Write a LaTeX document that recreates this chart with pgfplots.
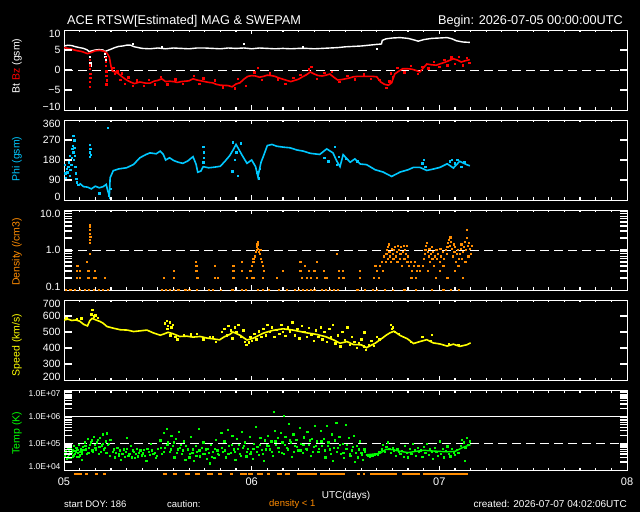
\documentclass[border=0pt]{standalone}
\usepackage{pgfplots}
\pgfplotsset{compat=1.18}
\usepackage{fontspec}
\setmainfont{Liberation Sans}
\definecolor{acered}{RGB}{255,0,0}
\definecolor{acecyan}{RGB}{0,200,255}
\definecolor{aceorange}{RGB}{255,140,0}
\definecolor{aceyellow}{RGB}{255,255,0}
\definecolor{acegreen}{RGB}{0,255,0}
\newcommand\dn[1]{\smash{\raisebox{-3.5pt}{#1}}\vphantom{0}}
\newcommand\up[1]{\smash{\raisebox{3.5pt}{#1}}\vphantom{0}}
\pgfplotsset{
  acepanel/.style={
    scale only axis, width=563pt, height=80pt, anchor=south west,
    xmin=0, xmax=72,
    axis background/.style={fill=black},
    axis line style={white, line width=0.9pt},
    tick align=inside,
    major tick length=0pt, minor tick length=0pt,
    xtick=\empty,
    tick label style={white, font=\fontsize{10.5}{12}\selectfont},
  },
  dot/.style={only marks, mark=square*, mark size=0.7pt},
  sdot/.style={only marks, mark=square*, mark size=0.6pt},
}
\begin{document}
\begin{tikzpicture}[x=1pt,y=1pt]
\fill[black] (0,0) rectangle (640,512);

% ---------------- Panel 1: Bt / Bz ----------------
\begin{axis}[acepanel, at={(64pt,402pt)}, ymin=-10, ymax=10,
  ytick={-10,-5,0,5,10}, yticklabels={\up{−10},−5,0,5,\dn{10}}]
\draw[white, line width=0.9pt, dash pattern=on 9pt off 5pt] (axis cs:0,0) -- (axis cs:72,0);
\addplot[white, line width=1.4pt] coordinates {
(0,6.0)(0.5,6.2)(1,6.1)(1.5,5.8)(2,5.6)(2.5,5.4)(3,5.0)(3.2,4.6)(3.6,4.8)(4,5.0)(4.5,5.1)(5,5.0)(5.2,4.6)(5.6,4.9)(6,5.2)(6.5,5.6)(7,5.9)(7.5,6.0)(8,6.2)(8.5,6.2)(9,5.8)(9.5,5.6)(10,5.4)(11,5.3)(12,5.5)(13,5.3)(14,5.5)(15,5.4)(16,5.3)(17,5.5)(18,5.5)(19,5.4)(20,5.3)(21,5.5)(22,5.4)(23,5.5)(24,5.3)(25,5.5)(26,5.4)(27,5.3)(28,5.4)(29,5.3)(30,5.4)(31,5.4)(32,5.3)(33,5.4)(34,5.5)(35,5.6)(36,5.8)(37,5.9)(38,6.0)(39,6.2)(40,6.4)(40.6,6.5)(40.7,7.4)(41.2,7.8)(42,8.0)(43,8.1)(44,7.9)(44.8,7.5)(45.3,7.2)(46,7.6)(47,7.9)(48,8.0)(49,8.1)(49.6,7.8)(50.2,7.3)(51,7.0)(51.9,6.9)};
\addplot[white, dot] coordinates {(3.3,3.3)(3.3,2.5)(3.35,1.8)(3.35,1.2)(5.2,4.0)(5.25,3.3)(5.3,2.6)(23,6.5)(40,5.3)(8.8,6.5)(12.5,5.8)(30.5,5.7)};
\addplot[acered, line width=1.6pt] coordinates {
(0,5.6)(0.8,5.3)(1.5,4.9)(2.3,4.6)(3.0,4.1)(3.5,4.4)(4.0,4.8)(4.6,4.9)(5.1,4.7)(5.5,4.2)(5.8,3.2)(6.0,1.0)(6.2,-0.3)(6.6,-0.5)(7,-1.0)(7.5,-1.8)(8,-2.5)(8.5,-3.0)(9,-3.4)(9.7,-3.0)(10.5,-3.3)(11,-3.3)(11.5,-2.8)(12,-2.6)(12.5,-2.2)(13,-2.9)(13.5,-2.8)(14,-2.9)(14.5,-3.1)(15,-2.9)(15.5,-2.8)(16,-2.7)(16.5,-2.2)(17,-2.5)(18,-2.9)(18.5,-3.1)(19,-3.2)(19.5,-3.6)(20,-3.8)(21,-3.9)(21.5,-4.2)(22,-3.5)(22.5,-3.2)(23,-2.3)(23.5,-1.6)(24,-1.4)(24.5,-1.5)(25,-1.8)(25.5,-1.6)(26,-1.3)(26.5,-1.4)(27,-1.6)(27.5,-2.0)(28,-2.3)(28.5,-2.6)(29,-2.9)(29.5,-2.6)(30,-2.3)(30.5,-1.7)(31,-1.2)(31.5,-0.5)(32,-1.0)(32.5,-1.4)(33,-1.5)(33.5,-1.3)(34,-1.0)(34.5,-1.8)(35,-2.5)(35.5,-2.4)(36,-2.2)(36.5,-2.0)(37,-1.7)(37.5,-1.6)(38,-1.6)(38.5,-1.6)(39,-1.6)(39.5,-1.6)(40,-1.7)(40.5,-3.0)(41,-3.6)(41.5,-3.8)(41.9,-3.2)(42.3,-1.0)(42.8,-0.3)(43.3,0.3)(44,0.3)(44.5,0.2)(45,-0.1)(45.5,-0.5)(46,0.6)(46.4,1.5)(47,1.3)(47.6,1.2)(48.2,1.6)(48.8,2.0)(49.3,2.4)(49.8,2.8)(50.3,2.5)(50.8,2.0)(51.3,2.3)(51.9,2.6)};
\addplot[acered, dot] coordinates {
(3.3,2.5)(3.3,1.2)(3.3,0.3)(3.35,-0.9)(3.35,-2.0)(3.3,-3.0)(3.3,-4.2)(5.3,3.0)(5.35,2.0)(5.35,1.0)(5.4,-0.3)(5.4,-1.5)(5.45,-2.6)(5.4,-3.6)
(6.3,0.5)(6.5,-1.0)(6.8,-0.3)(7.2,-2.5)(7.4,-0.8)(7.8,-3.5)(8.2,-1.8)(8.8,-4.0)(9.3,-2.6)(10.2,-3.9)(10.8,-2.4)(11.6,-3.6)(12.4,-1.7)(13.2,-3.6)(14.2,-2.3)(15.2,-3.5)(16.6,-1.5)(17.3,-3.4)(17.8,-2.1)(19.3,-2.6)(20.3,-4.3)(21.8,-4.6)(22.2,-2.2)(23.2,-3.9)(24.3,-0.6)(24.8,0.5)(25.3,-2.5)(26.3,-0.8)(27.3,-2.3)(28.3,-3.4)(29.3,-2.0)(30.2,-1.2)(31.3,0.2)(31.6,0.8)(32.3,-2.2)(33.3,-0.7)(34.2,-0.4)(35.2,-3.0)(36.2,-1.5)(37.2,-2.3)(38.3,-1.1)(39.2,-2.2)(40.3,-2.4)(41.2,-4.5)(41.6,-2.8)(41.8,-0.8)(42.0,-1.8)(42.6,0.5)(43.5,-0.6)(44.3,1.0)(45.2,-0.9)(45.8,0.8)(46.6,0.4)(47.3,2.0)(48.0,0.8)(48.6,2.6)(49.0,1.2)(49.5,3.2)(50.0,1.5)(50.5,3.3)(51.0,1.2)(51.5,3.0)(51.8,1.8)};
\end{axis}

% ---------------- Panel 2: Phi ----------------
\begin{axis}[acepanel, at={(64pt,312pt)}, ymin=0, ymax=360,
  ytick={0,90,180,270,360}, yticklabels={\up{0},90,180,270,\dn{360}}]
\addplot[acecyan, line width=1.6pt] coordinates {
(2.0,75)(2.5,60)(3.0,58)(3.5,50)(4.0,62)(4.5,55)(5.0,60)(5.4,70)(5.6,40)(5.8,20)(5.9,100)(6.3,132)(7.0,140)(8.0,145)(8.9,160)(9.7,190)(10.5,205)(11.0,212)(11.8,208)(12.3,220)(12.7,205)(13.0,180)(13.5,190)(14.0,178)(14.6,170)(15.2,165)(15.8,175)(16.5,195)(16.9,160)(17.1,125)(17.5,130)(17.8,150)(18.5,145)(19.3,148)(20.0,152)(20.6,175)(21.2,200)(21.7,230)(22.0,250)(22.4,225)(22.8,200)(23.4,165)(24.0,180)(24.5,150)(24.8,105)(25.2,170)(25.5,197)(26.0,245)(26.6,250)(27.2,242)(28.0,238)(28.9,235)(29.8,225)(30.6,220)(31.5,210)(32.7,205)(33.6,230)(34.4,212)(34.9,174)(35.3,150)(35.7,204)(36.6,170)(37.2,185)(37.9,162)(38.7,159)(39.8,136)(40.8,126)(41.9,106)(43.0,126)(44.0,136)(44.7,147)(45.5,147)(46.4,133)(47.2,139)(48.1,147)(49.0,163)(49.8,144)(50.6,174)(51.5,159)(51.9,154)};
\addplot[acecyan, dot] coordinates {
(0.1,160)(0.15,120)(0.2,100)(0.3,180)(0.35,140)(0.4,125)(0.5,90)(0.55,150)(0.6,170)(0.7,110)(0.75,200)(0.8,135)(0.9,160)(1.0,190)(1.05,230)(1.1,245)(1.2,215)(1.25,180)(1.3,235)(1.4,200)(1.45,150)(1.5,120)(1.55,95)(1.6,80)(1.2,290)(1.3,270)(1.8,70)
(3.3,250)(3.35,230)(3.3,215)(3.4,205)(3.3,195)(5.6,325)(5.7,20)(5.9,10)(4.5,30)(6.0,50)
(17.8,240)(17.85,215)(17.9,190)(17.8,170)(21.5,130)(21.8,180)(21.6,260)(22.2,110)(22.0,215)(22.6,255)(24.9,98)(24.7,125)(25.0,140)
(33.3,190)(33.8,175)(34.6,240)(34.9,160)(35.1,195)(36.0,185)(37.5,175)(45.8,165)(46.0,180)(46.2,150)(49.3,175)(49.6,180)(50.0,165)(50.3,180)(50.8,150)(51.2,170)};
\end{axis}

% ---------------- Panel 3: Density ----------------
\begin{axis}[acepanel, at={(64pt,222pt)}, ymode=log, ymin=0.1, ymax=10, clip=false,
  ytick={0.1,1,10}, yticklabels={\up{0.1},1.0,\dn{10.0}}, yminorticks=false]
\draw[white, line width=0.9pt, dash pattern=on 9pt off 5pt] (axis cs:0,1) -- (axis cs:72,1);
\addplot[aceorange, sdot] coordinates {
(0.2,0.1)(0.8,0.1)(1.4,0.1)(2.0,0.1)(2.6,0.1)(3.2,0.1)(3.8,0.1)(4.4,0.1)(5.0,0.1)(5.6,0.1)(12.5,0.1)(13.0,0.1)(13.5,0.1)(14.0,0.1)(14.6,0.1)(15.5,0.1)(16.0,0.1)(17.0,0.1)(18.5,0.1)(19.0,0.1)(20.0,0.1)(21.5,0.1)(22.7,0.1)(23.2,0.1)(24.8,0.1)(25.4,0.1)(26.2,0.1)(27.5,0.1)(28.5,0.1)(29.5,0.1)(30.0,0.1)(30.5,0.1)(31.0,0.1)(31.5,0.1)(32.0,0.1)(33.0,0.1)(33.5,0.1)(34.0,0.1)(34.5,0.1)(35.0,0.1)(37.5,0.1)(38.5,0.1)(39.5,0.1)(40.0,0.1)(41.0,0.1)(42.0,0.1)(43.5,0.1)(45.0,0.1)(47.0,0.1)(48.5,0.1)(49.5,0.1)(50.5,0.1)
(1.6,0.2)(1.6,0.3)(1.7,0.4)(2.0,0.2)(2.0,0.3)(2.9,0.5)(3.1,0.3)(3.1,0.2)(3.3,0.8)(3.3,1.5)(3.32,1.8)(3.35,2.2)(3.3,2.6)(3.28,3.2)(3.3,3.8)(3.32,4.2)(3.75,0.2)(3.96,0.3)(4.0,0.2)(5.24,0.2)(12.7,0.2)(14.0,0.3)(14.0,0.2)(16.8,0.5)(16.9,0.4)(16.9,0.3)(17.0,0.2)(17.1,0.2)(19.3,0.4)(19.3,0.2)(19.7,0.2)(21.65,0.4)(21.65,0.3)(21.65,0.2)(22.7,0.5)(22.7,0.3)(23.4,0.2)(23.8,0.3)
(24.0,0.4)(24.1,0.5)(24.2,0.6)(24.3,0.5)(24.4,0.7)(24.5,0.9)(24.6,1.0)(24.6,1.2)(24.7,1.4)(24.75,1.6)(24.8,1.1)(24.9,0.9)(25.0,0.8)(25.1,1.0)(25.2,0.6)(25.3,0.5)(25.4,0.4)(25.5,0.3)(24.3,0.2)(25.4,0.2)(24.0,0.2)
(27.2,0.2)(28.0,0.3)(30.2,0.5)(30.2,0.3)(30.4,0.2)(30.8,0.4)(31.0,0.2)(31.3,0.3)(31.6,0.2)(32.0,0.3)(32.3,0.5)(32.3,0.2)
(33.2,0.3)(33.4,0.2)(33.6,0.2)(34.9,0.8)(35.1,0.3)(35.1,0.2)(35.6,0.3)(35.7,0.2)(37.8,0.3)(37.8,0.2)
(39.6,0.2)(39.8,0.4)(40.0,0.3)(40.2,0.2)(40.4,0.4)(40.6,0.5)(40.8,0.3)(40.9,0.7)(41.1,0.5)(41.2,0.8)(41.3,1.0)(41.4,1.2)(41.4,0.6)(41.5,1.4)(41.6,0.9)(41.7,0.7)(41.8,0.5)(41.9,1.1)(42.0,0.8)(42.1,0.6)(42.2,1.0)(42.3,1.2)(42.4,0.7)(42.5,0.9)(42.6,0.5)(42.7,1.3)(42.8,1.0)(42.9,0.6)(43.0,0.8)(43.1,1.2)(43.2,0.4)(43.3,0.9)(43.4,1.3)(43.5,0.6)(43.6,1.0)(43.7,0.8)(43.8,1.3)(43.9,0.5)(44.0,0.7)(44.1,0.4)(44.3,0.5)(44.5,0.3)(44.7,0.4)(44.9,0.5)(45.1,0.3)(45.3,0.4)(45.5,0.3)(44.4,0.2)(45.0,0.2)
(45.9,0.4)(46.0,0.6)(46.1,0.8)(46.2,1.0)(46.3,1.3)(46.4,1.5)(46.5,0.9)(46.6,0.7)(46.7,1.1)(46.8,0.5)(46.9,0.8)(47.0,1.2)(47.1,0.6)(47.2,0.9)(47.3,0.4)(47.4,0.7)(47.6,1.0)(47.7,0.6)(47.8,0.8)(48.0,0.5)(48.1,1.1)(48.2,0.7)(48.4,0.9)(48.5,0.4)(48.6,0.6)(48.8,1.0)(48.9,0.8)(49.0,1.2)(49.1,1.5)(49.2,1.8)(49.3,1.3)(49.4,2.1)(49.5,1.6)(49.6,1.1)(49.7,0.7)(49.8,1.4)(49.9,0.9)(50.0,1.2)(50.1,0.5)(50.2,0.8)(50.3,1.0)(50.4,0.4)(50.5,0.6)(50.6,0.8)(50.7,1.1)(50.8,1.4)(50.9,0.6)(51.0,0.9)(51.1,1.2)(51.2,1.6)(51.3,0.5)(51.4,1.0)(51.5,3.2)(51.55,2.0)(51.6,1.3)(51.7,0.7)(51.8,1.5)(51.9,1.1)(52.0,0.8)(52.1,1.3)(48.0,0.3)(49.0,0.2)(50.0,0.3)(51.0,0.2)(46.5,0.3)(47.5,0.2)};
\end{axis}

% ---------------- Panel 4: Speed ----------------
\begin{axis}[acepanel, at={(64pt,132pt)}, ymin=200, ymax=700,
  ytick={200,300,400,500,600,700}, yticklabels={\up{200},300,400,500,600,\dn{700}}]
\addplot[aceyellow, line width=1.6pt] coordinates {
(0,575)(0.5,580)(1,572)(1.5,575)(2,568)(2.5,548)(3.0,538)(3.3,570)(3.6,585)(4.1,575)(4.6,566)(5.0,555)(5.5,534)(6.3,524)(7.2,514)(8.1,512)(8.9,503)(9.7,507)(10.6,512)(11.4,495)(12.3,480)(12.8,488)(13.3,498)(13.9,490)(14.8,472)(15.7,474)(16.5,468)(17.4,472)(18.3,462)(19.1,457)(19.9,451)(20.5,470)(21.2,485)(21.6,500)(22.5,480)(23.4,450)(24.2,461)(25.5,493)(26.7,510)(28,520)(29.3,512)(31,495)(32.3,485)(33.5,470)(34.5,450)(35.3,430)(36.2,440)(37,422)(38,420)(38.7,402)(39.8,430)(40.8,465)(41.2,480)(41.7,495)(42.2,505)(43,478)(43.9,458)(44.7,428)(45.5,440)(46.4,452)(47.2,432)(48.1,425)(49,412)(49.8,424)(50.6,410)(51.5,420)(52,432)};
\addplot[aceyellow, dot] coordinates {
(3.5,610)(3.6,640)(3.8,598)(4.0,605)(4.3,590)(2.2,585)(1.6,580)(0.3,590)(0.6,600)
(12.9,555)(13.1,570)(13.3,540)(13.5,560)(13.7,530)(13.9,545)(13.2,520)(13.6,480)(14.2,470)(14.5,455)
(15.3,480)(16.2,485)(17.0,490)(17.8,455)(18.6,470)(19.4,440)(19.0,470)
(20.2,500)(20.5,520)(20.8,480)(21.0,540)(21.3,510)(21.5,460)(21.8,530)(22.0,500)(22.3,545)(22.6,470)(22.9,510)(23.1,440)(23.3,420)(23.6,435)(23.8,470)(24.0,445)(24.3,490)(24.6,455)(24.9,505)(25.2,470)(25.5,520)(25.8,480)(26.0,545)(26.3,500)(26.6,530)(26.9,470)(27.2,515)(27.5,490)(27.8,545)(28.0,500)(28.3,475)(28.6,530)(28.9,505)(29.2,560)(29.5,480)(29.8,520)(30.1,460)(30.4,540)(30.7,500)(31.0,470)(31.3,525)(31.6,485)(31.9,445)(32.2,510)(32.5,470)
(32.8,530)(33.0,455)(33.3,500)(33.6,440)(33.9,520)(34.1,470)(34.4,545)(34.7,430)(35.0,480)(35.3,410)(35.6,500)(35.9,450)(36.2,530)(36.5,420)(36.8,470)(37.1,440)(37.4,400)(37.7,430)(38.0,455)(38.3,410)(38.4,499)(38.6,390)(39.0,420)(39.3,445)(39.6,415)(40.0,470)(40.3,455)
(41.8,545)(42.0,530)(41.9,520)(42.3,500)(42.8,490)(44.3,440)(45.8,470)(46.9,445)(47.0,482)(50.4,420)(49.2,425)};
\end{axis}

% ---------------- Panel 5: Temperature ----------------
\begin{axis}[acepanel, at={(64pt,42pt)}, ymode=log, ymin=1e4, ymax=1e7, clip=false,
  ytick={1e4,1e5,1e6,1e7}, yticklabels={\up{1.0E+04},1.0E+05,1.0E+06,\dn{1.0E+07}}, yminorticks=false,
  yticklabel style={font=\fontsize{8.5}{10}\selectfont}]
\draw[white, line width=0.9pt] (axis cs:0,1e6) -- (axis cs:72,1e6);
\draw[white, line width=0.9pt, dash pattern=on 9pt off 5pt] (axis cs:0,1e5) -- (axis cs:72,1e5);
\addplot[acegreen, line width=1.4pt] coordinates {
(38.6,3.7e4)(40.4,4.2e4)(41.2,6e4)(42,5.8e4)(43,5e4)(44,4.5e4)(45,5e4)(46,5.5e4)(47,5.2e4)(48,5e4)(49,4.8e4)(50,5e4)(51,7e4)(52,9e4)};
\addplot[acegreen, sdot] coordinates {
(0.1,3.5e4)(0.2,5.5e4)(0.3,2.6e4)(0.4,4.2e4)(0.5,7e4)(0.6,3.8e4)(0.7,5e4)(0.8,2.9e4)(0.9,6.2e4)(1.0,4.5e4)(1.1,3.3e4)(1.2,8e4)(1.3,5.3e4)(1.4,4e4)(1.5,6.8e4)(1.6,3.1e4)(1.7,5.8e4)(1.8,4.4e4)(1.9,9e4)(2.0,3.6e4)(2.1,6e4)(2.2,4.8e4)(2.3,2.5e4)(2.4,7.5e4)
(2.6,1.1e5)(2.8,6e4)(3.0,1.5e5)(3.1,4.5e4)(3.3,9e4)(3.5,1.3e5)(3.6,5.5e4)(3.8,1.8e5)(4.0,7e4)(4.2,1.1e5)(4.4,4e4)(4.6,1.6e5)(4.8,8.5e4)(5.0,2.2e5)(5.1,6e4)(5.3,1.2e5)(5.5,2.4e5)(5.6,9e4)(5.8,3.5e4)(5.9,1.4e5)
(6.2,5e4)(6.5,3e4)(6.8,7e4)(7.0,4.2e4)(7.3,2.5e4)(7.6,6e4)(7.9,4.8e4)(8.2,3.4e4)(8.5,8e4)(8.8,5.5e4)(9.0,2.8e4)(9.3,6.5e4)(9.6,4.5e4)(9.9,3.6e4)(10.2,5.8e4)(10.5,2.3e4)(10.8,4.9e4)(11.1,1.0e5)(11.4,4e4)(11.7,2.9e4)(12.0,6.2e4)(8.0,1.6e5)
(12.3,1.3e5)(12.5,4e4)(12.7,2.5e5)(12.9,7e4)(13.1,3.5e5)(13.3,1.1e5)(13.5,5e4)(13.7,2e5)(13.9,8e4)(14.1,3e4)(14.3,1.5e5)(14.5,6e4)(14.7,2.8e5)(14.9,9e4)(15.1,4.2e4)(15.3,1.2e5)(15.5,2.4e4)
(15.8,6e4)(16.0,3e4)(16.2,1.8e5)(16.4,4.5e4)(16.6,2.2e4)(16.8,8e4)(17.0,5e4)(17.2,3.5e5)(17.4,3.3e4)(17.6,7e4)(17.8,1.1e5)(18.0,4e4)(18.2,2.6e4)(18.4,6.5e4)(18.6,1.8e4)(18.8,9e4)(19.0,4.8e4)(19.2,2.9e4)(19.4,1.4e5)(19.6,5.5e4)(19.8,3.8e4)
(20.1,2.5e5)(20.3,5e4)(20.5,1.2e5)(20.7,3e4)(20.9,3.2e5)(21.1,8e4)(21.3,4.5e4)(21.5,2e5)(21.7,6e4)(21.9,2.4e4)(22.1,1.5e5)(22.3,9e4)(22.5,4e4)(22.7,2.8e5)(22.9,7e4)(23.1,1.1e5)(23.3,3.3e4)(23.5,6.5e4)(23.7,1.8e5)(23.9,5e4)(24.1,2.6e4)(24.3,1e5)(24.5,4.2e5)(24.7,7.5e4)(24.9,3.8e4)(25.1,1.6e5)(25.3,5.8e4)(25.5,2.2e4)(25.7,1.3e5)(25.9,8.5e4)
(26.1,2e5)(26.3,6e4)(26.5,1.2e5)(26.7,3.5e4)(26.9,3e5)(27.1,9e4)(27.3,1.6e5)(27.5,5e4)(27.7,2.5e5)(27.9,1.1e5)(28.1,4e4)(28.3,1.8e5)(28.5,7e4)(28.7,5.6e5)(28.9,1.3e5)(29.1,3.2e4)(29.3,2.2e5)(29.5,8e4)(29.7,1.4e5)(29.9,5.5e4)(30.1,3.8e5)(30.3,1e5)(30.5,4.5e4)(30.7,1.7e5)(30.9,6.5e4)(31.1,2.8e5)(31.3,9e4)(31.5,3.5e4)(31.7,1.5e5)(31.9,7.5e4)(32.1,4.5e5)(32.3,1.2e5)(32.5,5e4)(26.8,1.5e6)(28.1,1.07e6)
(32.8,3e5)(33.0,8e4)(33.2,1.5e5)(33.4,3e4)(33.6,4.5e5)(33.8,1.1e5)(34.0,6e4)(34.2,2.2e5)(34.4,2.2e4)(34.6,1.3e5)(34.8,6e5)(35.0,7e4)(35.2,1.8e5)(35.4,4e4)(35.6,1e5)(35.8,2.8e4)(36.0,5e5)(36.2,9e4)(36.4,1.6e5)(36.6,3.5e4)(36.8,5.5e4)(37.0,2e5)(37.2,2e4)(37.4,8e4)(37.6,3e4)(37.8,1.2e5)(38.0,4.5e4)(38.2,2.5e4)(38.4,6e4)
(38.7,3.8e4)(38.9,3.5e4)(39.1,3.3e4)(39.3,3.6e4)(39.5,3.4e4)(39.7,3.9e4)(39.9,4.2e4)(40.1,3.7e4)(40.3,4.8e4)
(40.6,6e4)(40.8,9e4)(41.0,5e4)(41.2,7.5e4)(41.4,1.1e5)(41.6,6.5e4)(41.8,4.5e4)(42.0,7e4)(42.2,5.5e4)(42.4,3.5e4)(42.6,6e4)(42.8,5e4)(43.0,4e4)(43.2,5.2e4)(43.4,3.2e4)(43.6,8e4)(43.8,4.5e4)(44.0,3e4)(44.2,6.5e4)(44.4,4e4)(44.6,1.0e5)(44.8,5.5e4)(45.0,3.5e4)(45.2,7e4)(45.4,4.8e4)
(45.6,5.5e4)(45.8,3.2e4)(46.0,7.5e4)(46.2,4.5e4)(46.4,9.5e4)(46.6,3.8e4)(46.8,6e4)(47.0,4.8e4)(47.2,2.7e4)(47.4,7e4)(47.6,5e4)(47.8,3.5e4)(48.0,1.2e5)(48.2,4.2e4)(48.4,6.2e4)(48.6,3e4)(48.8,5.2e4)(49.0,7.8e4)(49.2,4e4)(49.4,3.3e4)(49.6,6.5e4)(49.8,4.6e4)(50.0,3.7e4)(50.2,5.8e4)(50.4,4.4e4)
(50.7,8e4)(50.9,1.4e5)(51.1,1.1e5)(51.3,7e4)(51.5,1.6e5)(51.7,9e4)(51.9,1.2e5)(51.2,2.2e4)
(0.15,4.6e4)(0.45,3e4)(0.65,6e4)(0.85,4e4)(1.05,5.5e4)(1.25,3.6e4)(1.45,4.8e4)(1.65,7e4)(1.85,3.2e4)(2.05,5e4)(2.25,4e4)(2.45,5.8e4)
(2.7,8e4)(2.9,4e4)(3.2,7e4)(3.4,1.1e5)(3.7,5e4)(3.9,9e4)(4.1,6e4)(4.3,1.4e5)(4.5,7.5e4)(4.7,5e4)(4.9,1e5)(5.2,7e4)(5.4,4.5e4)(5.7,1e5)
(6.35,6e4)(6.65,4.5e4)(6.95,3.5e4)(7.15,5.5e4)(7.45,4e4)(7.75,3.2e4)(8.05,6.5e4)(8.35,4.2e4)(8.65,3e4)(8.95,5e4)(9.15,4e4)(9.45,3.3e4)(9.75,5.5e4)(10.05,4.3e4)(10.35,3.5e4)(10.65,6.5e4)(10.95,3.8e4)(11.25,5.5e4)(11.55,4.6e4)(11.85,3.4e4)
(12.4,7e4)(12.8,5e4)(13.2,9e4)(13.6,6e4)(14.0,1.1e5)(14.4,4.5e4)(14.8,7e4)(15.2,5.5e4)(15.6,8e4)(16.1,4.2e4)(16.5,6e4)(16.9,3.5e4)(17.3,5.5e4)(17.7,4e4)(18.1,6e4)(18.5,4.5e4)(18.9,3.2e4)(19.3,6.5e4)(19.7,4e4)
(20.2,7e4)(20.6,5.5e4)(21.0,4e4)(21.4,9e4)(21.8,5e4)(22.2,6.5e4)(22.6,3.5e4)(23.0,8e4)(23.4,5e4)(23.8,4.2e4)(24.2,6.5e4)(24.6,5e4)(25.0,9e4)(25.4,4e4)(25.8,6e4)
(26.2,8e4)(26.6,5e4)(27.0,1.2e5)(27.4,7e4)(27.8,4.5e4)(28.2,9e4)(28.6,6e4)(29.0,1.1e5)(29.4,4.8e4)(29.8,7.5e4)(30.2,5.5e4)(30.6,9e4)(31.0,6e4)(31.4,1.3e5)(31.8,5e4)(32.2,8e4)(32.6,6.5e4)
(32.9,1.2e5)(33.3,5.5e4)(33.7,8e4)(34.1,4e4)(34.5,7e4)(34.9,5e4)(35.3,9e4)(35.7,4.5e4)(36.1,6.5e4)(36.5,4e4)(36.9,7.5e4)(37.3,4.5e4)(37.7,6e4)(38.1,3.8e4)(38.5,5e4)};
% caution markers (density < 1)
\addplot[aceorange, line width=1.2pt, unbounded coords=jump] coordinates {
(1.28,7.07e3)(2.30,7.07e3)(2.4,nan)(2.69,7.07e3)(3.07,7.07e3)(3.2,nan)(3.96,7.07e3)(4.35,7.07e3)(4.5,nan)(4.99,7.07e3)(5.37,7.07e3)(5.5,nan)
(12.66,7.07e3)(13.17,7.07e3)(13.3,nan)(13.94,7.07e3)(14.45,7.07e3)(14.6,nan)(15.47,7.07e3)(16.11,7.07e3)(16.2,nan)(16.75,7.07e3)(17.39,7.07e3)(17.5,nan)(18.29,7.07e3)(19.05,7.07e3)(19.2,nan)(19.69,7.07e3)(20.20,7.07e3)(20.3,nan)(21.23,7.07e3)(21.61,7.07e3)(21.7,nan)(22.51,7.07e3)(23.40,7.07e3)(23.45,nan)(23.53,7.07e3)(24.17,7.07e3)(24.3,nan)(24.68,7.07e3)(25.45,7.07e3)(25.6,nan)(25.96,7.07e3)(26.34,7.07e3)(26.5,nan)(27.24,7.07e3)(27.88,7.07e3)(28.0,nan)(28.26,7.07e3)(28.90,7.07e3)(29.0,nan)(29.80,7.07e3)(32.35,7.07e3)(32.5,nan)
(32.74,7.07e3)(35.93,7.07e3)(36.0,nan)(37.47,7.07e3)(37.85,7.07e3)(38.0,nan)(38.24,7.07e3)(38.49,7.07e3)(38.6,nan)(39.13,7.07e3)(42.58,7.07e3)(42.7,nan)(43.22,7.07e3)(45.52,7.07e3)(45.6,nan)(45.91,7.07e3)(51.66,7.07e3)};
\end{axis}

% ---------------- Tick marks (decoration on the panel frames) ----------------
% x ticks every 2 h (longer at day boundaries), top and bottom of each panel
\foreach \yb/\yt in {402/482, 312/392, 222/302, 132/212, 42/122} {
  \foreach \h in {2,4,...,70} {
    \path[draw=white, line width=1.2pt] ({64+7.8194*\h},\yb) -- ({64+7.8194*\h},{\yb+2.5});
    \path[draw=white, line width=1.2pt] ({64+7.8194*\h},\yt) -- ({64+7.8194*\h},{\yt-2.5});
  }
  \foreach \h in {24,48} {
    \path[draw=white, line width=1.2pt] ({64+7.8194*\h},\yb) -- ({64+7.8194*\h},{\yb+4.5});
    \path[draw=white, line width=1.2pt] ({64+7.8194*\h},\yt) -- ({64+7.8194*\h},{\yt-4.5});
  }
}
% y ticks, left and right edges
\foreach \y in {422,442,462,332,352,372,148,164,180,196,234.04,241.08,246.08,249.96,253.13,255.80,258.12,260.17,262,274.04,281.08,286.08,289.96,293.13,295.80,298.12,300.17,50.03,54.72,58.06,60.64,62.75,64.53,66.08,67.45,68.67,76.70,81.39,84.73,87.31,89.42,91.20,92.75,94.12,95.33,103.36,108.05,111.39,113.97,116.08,117.86,119.41,120.78} {
  \path[draw=white, line width=1.2pt] (64,\y) -- (71.5,\y);
  \path[draw=white, line width=1.2pt] (627,\y) -- (619.5,\y);
}

% ---------------- Texts ----------------
\node[anchor=base west, inner sep=0, white, font=\fontsize{12.7}{14}\selectfont] at (67,487) {ACE RTSW[Estimated] MAG \& SWEPAM};
\node[anchor=base east, inner sep=0, white, font=\fontsize{12.7}{14}\selectfont] at (623,487) {Begin: 2026-07-05 00:00:00UTC};

\node[rotate=90, inner sep=0, white, font=\fontsize{10.5}{12}\selectfont] at (17,446) {Bt \textcolor{acered}{Bz} (gsm)};
\node[rotate=90, inner sep=0, acecyan, font=\fontsize{10.5}{12}\selectfont] at (17,353) {Phi (gsm)};
\node[rotate=90, inner sep=0, aceorange, font=\fontsize{10.5}{12}\selectfont] at (17,260) {Density (/cm3)};
\node[rotate=90, inner sep=0, aceyellow, font=\fontsize{10.5}{12}\selectfont] at (17,167) {Speed (km/s)};
\node[rotate=90, inner sep=0, acegreen, font=\fontsize{10.5}{12}\selectfont] at (17,79) {Temp (K)};

\node[white, font=\fontsize{11}{13}\selectfont] at (64,30) {05};
\node[white, font=\fontsize{11}{13}\selectfont] at (251.67,30) {06};
\node[white, font=\fontsize{11}{13}\selectfont] at (439.33,30) {07};
\node[white, font=\fontsize{11}{13}\selectfont] at (627,30) {08};
\node[inner sep=0, white, font=\fontsize{10}{12}\selectfont] at (346,16) {UTC(days)};
\node[anchor=west, inner sep=0, white, font=\fontsize{9.5}{11}\selectfont] at (64,8) {start DOY: 186};
\node[anchor=west, inner sep=0, white, font=\fontsize{9.5}{11}\selectfont] at (167,8) {caution:};
\node[anchor=west, inner sep=0, aceorange, font=\fontsize{9.5}{11}\selectfont] at (269,8) {density < 1};
\node[anchor=east, inner sep=0, white, font=\fontsize{10}{12}\selectfont] at (627,8) {created: 2026-07-07 04:02:06UTC};

\pgfresetboundingbox
\path[use as bounding box] (0,0) rectangle (640,512);
\end{tikzpicture}
\end{document}
